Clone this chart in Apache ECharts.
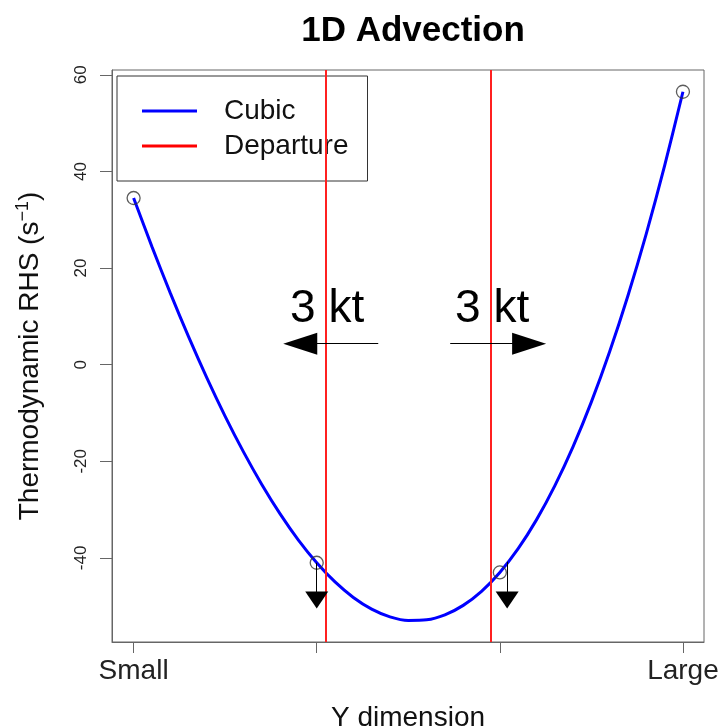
<!DOCTYPE html>
<html>
<head>
<meta charset="utf-8">
<title>1D Advection</title>
<script src="https://cdn.jsdelivr.net/npm/echarts@6/dist/echarts.min.js"></script>
<style>
  html, body { margin: 0; padding: 0; background: #fff; }
  #chart { width: 721px; height: 727px; }
</style>
</head>
<body>
<div id="chart"></div>
<script>
// Grid points along the Y dimension and the field values at them
const pointX = [0, 1, 2, 3];
const pointY = [34.5, -41, -43, 56.5];
const xTickLabels = ['Small', '', '', 'Large'];
const yTicks = [-40, -20, 0, 20, 40, 60];

// Cubic curve through the grid points, sampled every 0.1 along x
const curveX = [0, 0.1, 0.2, 0.3, 0.4, 0.5, 0.6, 0.7, 0.8, 0.9, 1.0,
                1.1, 1.2, 1.3, 1.4, 1.5, 1.6, 1.7, 1.8, 1.9, 2.0,
                2.1, 2.2, 2.3, 2.4, 2.5, 2.6, 2.7, 2.8, 2.9, 3.0];
const curveY = [34.5, 24.44, 14.86, 5.80, -2.73, -10.69, -18.05, -24.79, -30.88, -36.30, -41,
                -44.97, -48.18, -50.59, -52.19, -52.94, -52.81, -51.78, -49.82, -46.91, -43,
                -38.08, -32.12, -25.08, -16.95, -7.69, 2.73, 14.33, 27.14, 41.19, 56.5];

// Departure points
const departureX = [1.046, 1.953];

// Wind arrows: start and head centre, plus the "3 kt" labels
const windFrom = [[1.336, 4.35], [1.729, 4.35]];
const windTo = [[0.910, 4.35], [2.160, 4.35]];
const windLabelPos = [[1.057, 11.4], [1.958, 11.4]];
const windLabel = '3 kt';

// Downward arrows under the interior points
const dropFrom = [[1.0, -41], [2.04, -40.8]];
const dropTo = [[1.0, -48.7], [2.04, -48.7]];

const FONT = 'Liberation Sans, Arial, Helvetica, sans-serif';
const AXIS_GREY = '#666';

const chart = echarts.init(document.getElementById('chart'), null, { renderer: 'canvas' });

const arrowLines = [];
windFrom.forEach((p, i) => {
  arrowLines.push([
    { coord: p, symbol: 'none' },
    { coord: windTo[i], symbol: 'triangle', symbolSize: [22, 34] }
  ]);
});
dropFrom.forEach((p, i) => {
  arrowLines.push([
    { coord: p, symbol: 'none' },
    { coord: dropTo[i], symbol: 'triangle', symbolSize: [23, 17] }
  ]);
});

const option = {
  animation: false,
  backgroundColor: '#fff',
  textStyle: { fontFamily: FONT },
  title: {
    text: '1D Advection',
    left: 408,
    top: 9,
    textAlign: 'center',
    textStyle: { fontFamily: FONT, fontSize: 35, fontWeight: 'bold', color: '#000' }
  },
  legend: {
    left: 117,
    top: 76,
    orient: 'vertical',
    data: ['Cubic', 'Departure'],
    icon: 'rect',
    itemWidth: 55,
    itemHeight: 3,
    itemGap: 7,
    padding: [21, 19, 21, 25],
    borderColor: '#333',
    borderWidth: 1,
    backgroundColor: '#fff',
    textStyle: { fontFamily: FONT, fontSize: 28, lineHeight: 28, color: '#111', padding: [0, 0, 0, 22] }
  },
  grid: {
    left: 112,
    right: 17,
    top: 70,
    bottom: 85,
    show: true,
    borderColor: AXIS_GREY,
    borderWidth: 1,
    backgroundColor: 'transparent',
    containLabel: false,
    outerBoundsMode: 'none'
  },
  xAxis: {
    type: 'value',
    min: -0.118,
    max: 3.115,
    name: 'Y dimension',
    nameLocation: 'middle',
    nameGap: 62,
    nameTextStyle: { fontFamily: FONT, fontSize: 28, color: '#111' },
    axisLine: { show: true, onZero: false, lineStyle: { color: AXIS_GREY, width: 1 } },
    axisTick: { show: true, customValues: pointX, length: 11, lineStyle: { color: AXIS_GREY } },
    axisLabel: {
      customValues: pointX,
      formatter: v => xTickLabels[Math.round(v)],
      fontFamily: FONT, fontSize: 28, color: '#222', margin: 15
    },
    splitLine: { show: false }
  },
  yAxis: {
    type: 'value',
    min: -57.4,
    max: 61.0,
    name: 'Thermodynamic RHS (s{sup|\u22121})',
    nameLocation: 'middle',
    nameRotate: 90,
    nameGap: 66,
    nameTextStyle: {
      fontFamily: FONT, fontSize: 28, color: '#111',
      rich: { sup: { fontFamily: FONT, fontSize: 18, color: '#111', verticalAlign: 'top', padding: [0, 0, 14, 0] } }
    },
    axisLine: { show: true, onZero: false, lineStyle: { color: AXIS_GREY, width: 1 } },
    axisTick: { show: true, customValues: yTicks, length: 12, lineStyle: { color: AXIS_GREY } },
    axisLabel: {
      customValues: yTicks,
      rotate: 90,
      fontFamily: FONT, fontSize: 17, color: '#222', margin: 22
    },
    splitLine: { show: false }
  },
  series: [
    {
      name: 'Cubic',
      type: 'line',
      data: curveX.map((x, i) => [x, curveY[i]]),
      smooth: 0.3,
      showSymbol: false,
      color: '#0000ff',
      lineStyle: { color: '#0000ff', width: 3 },
      z: 3
    },
    {
      name: 'Departure',
      type: 'line',
      data: [],
      color: '#ff0000',
      lineStyle: { color: '#ff0000', width: 2 },
      markLine: {
        silent: true,
        symbol: 'none',
        label: { show: false },
        lineStyle: { color: '#ff2020', width: 2, type: 'solid' },
        data: departureX.map(x => ({ xAxis: x }))
      },
      z: 2
    },
    {
      name: 'points',
      type: 'scatter',
      data: pointX.map((x, i) => [x, pointY[i]]),
      symbol: 'circle',
      symbolSize: 13,
      itemStyle: { color: 'rgba(0,0,0,0)', borderColor: '#333', borderWidth: 1.3 },
      z: 4
    },
    {
      name: 'arrows',
      type: 'line',
      data: [],
      markLine: {
        silent: true,
        label: { show: false },
        lineStyle: { color: '#000', width: 1, type: 'solid' },
        itemStyle: { color: '#000' },
        data: arrowLines
      },
      z: 5
    },
    {
      name: 'windLabels',
      type: 'scatter',
      data: windLabelPos,
      symbolSize: 0,
      itemStyle: { color: '#000', opacity: 1 },
      label: {
        show: true,
        position: 'inside',
        formatter: windLabel,
        fontFamily: FONT,
        fontSize: 46,
        color: '#000',
        opacity: 1,
        textBorderWidth: 0
      },
      z: 6
    }
  ]
};

chart.setOption(option);
</script>
</body>
</html>
